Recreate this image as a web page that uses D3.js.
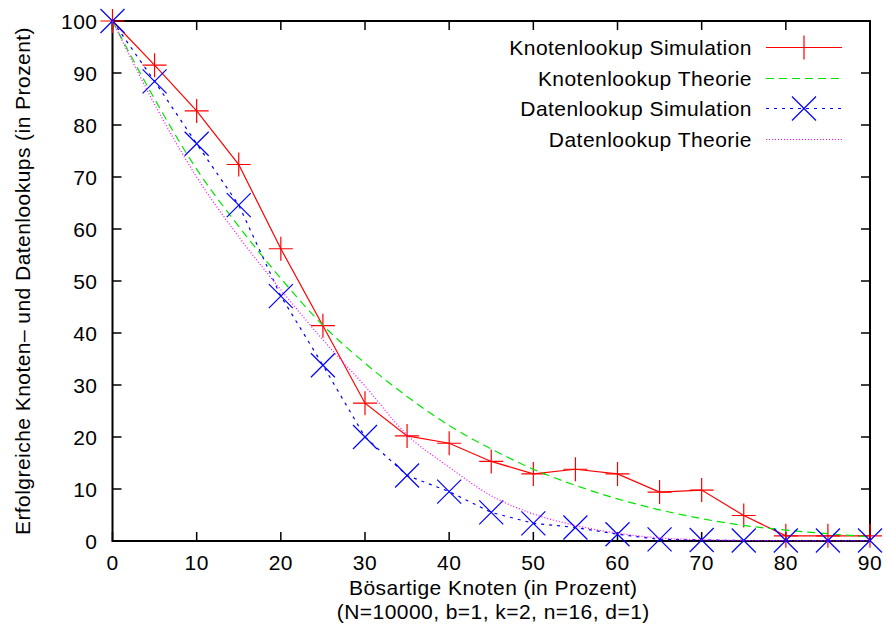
<!DOCTYPE html>
<html>
<head>
<meta charset="utf-8">
<script src="https://cdn.jsdelivr.net/npm/d3@7"></script>
<style>
  body { margin: 0; background: #fff; }
  svg { display: block; font-family: "Liberation Sans", Arial, sans-serif; }
  text { letter-spacing: 0.45px; }
</style>
</head>
<body>
<svg id="chart" width="887" height="633"></svg>
<script>
// malicious node share (x axis, percent)
const xValues = [0, 5, 10, 15, 20, 25, 30, 35, 40, 45, 50, 55, 60, 65, 70, 75, 80, 85, 90];

// success rates (percent)
const knotenSim = [100, 91.5, 82.7, 72.4, 56.2, 41.4, 26.5, 20.2, 18.8, 15.3, 12.9, 13.8, 12.9, 9.4, 9.8, 4.9, 1.0, 1.0, 1.0];
const knotenTheorie = [100, 85, 71.5, 60.5, 50.5, 41.5, 34.2, 27.8, 22.2, 17.7, 13.8, 10.7, 8.1, 6.0, 4.3, 3.0, 2.1, 1.4, 0.8];
const datenSim = [100, 88.4, 76.4, 64.6, 47.1, 33.8, 20.0, 12.6, 9.5, 5.5, 3.4, 2.6, 1.3, 0.3, 0.2, 0.1, 0.1, 0.1, 0.1];
const datenTheorie = [100, 84, 70, 58.5, 48.3, 38.7, 29.8, 20.4, 14.2, 8.7, 5.2, 3.0, 1.5, 0.6, 0.25, 0.1, 0.05, 0.02, 0.01];

const xTicks = [0, 10, 20, 30, 40, 50, 60, 70, 80, 90];
const yTicks = [0, 10, 20, 30, 40, 50, 60, 70, 80, 90, 100];

const series = [
  { name: "Knotenlookup Simulation", values: knotenSim, color: "#ff0000", dash: null, marker: "plus", curve: d3.curveLinear },
  { name: "Knotenlookup Theorie", values: knotenTheorie, color: "#00e600", dash: "8,5", marker: null, curve: d3.curveMonotoneX },
  { name: "Datenlookup Simulation", values: datenSim, color: "#0000ff", dash: "3,5", marker: "cross", curve: d3.curveLinear },
  { name: "Datenlookup Theorie", values: datenTheorie, color: "#ff00ff", dash: "1,2", marker: null, curve: d3.curveMonotoneX },
];

const marginLeft = 112.5;
const marginRight = 17;
const marginTop = 21;
const marginBottom = 92;
const width = 887;
const height = 633;
const fontSize = 21;
const tickLen = 9;
const markerSize = 12;

const x = d3.scaleLinear().domain([0, 90]).range([marginLeft, width - marginRight]);
const y = d3.scaleLinear().domain([0, 100]).range([height - marginBottom, marginTop]);

const svg = d3.select("#chart");

/**
 * Axes (gnuplot style: ticks inward on all four sides)
 */
const axisG = svg.append("g").attr("class", "axes");

axisG
  .selectAll(".xtick")
  .data(xTicks)
  .join("g")
  .attr("class", "xtick")
  .call((g) =>
    g.append("line")
      .attr("x1", (d) => x(d)).attr("x2", (d) => x(d))
      .attr("y1", y(0)).attr("y2", y(0) - tickLen)
  )
  .call((g) =>
    g.append("line")
      .attr("x1", (d) => x(d)).attr("x2", (d) => x(d))
      .attr("y1", y(100)).attr("y2", y(100) + tickLen)
  )
  .call((g) =>
    g.append("text")
      .attr("x", (d) => x(d))
      .attr("y", y(0) + 21)
      .attr("text-anchor", "middle")
      .attr("dominant-baseline", "central")
      .text((d) => d)
  );

axisG
  .selectAll(".ytick")
  .data(yTicks)
  .join("g")
  .attr("class", "ytick")
  .call((g) =>
    g.append("line")
      .attr("x1", x(0)).attr("x2", x(0) + tickLen)
      .attr("y1", (d) => y(d)).attr("y2", (d) => y(d))
  )
  .call((g) =>
    g.append("line")
      .attr("x1", x(90)).attr("x2", x(90) - tickLen)
      .attr("y1", (d) => y(d)).attr("y2", (d) => y(d))
  )
  .call((g) =>
    g.append("text")
      .attr("x", x(0) - 15)
      .attr("y", (d) => y(d))
      .attr("text-anchor", "end")
      .attr("dominant-baseline", "central")
      .text((d) => d)
  );

axisG.selectAll("line").attr("stroke", "#000").attr("stroke-width", 1.5);
axisG.selectAll("text").attr("font-size", fontSize).attr("fill", "#000");

axisG
  .append("rect")
  .attr("x", x(0))
  .attr("y", y(100))
  .attr("width", x(90) - x(0))
  .attr("height", y(0) - y(100))
  .attr("fill", "none")
  .attr("stroke", "#000")
  .attr("stroke-width", 2);

// axis titles
svg.append("text")
  .attr("x", (x(0) + x(90)) / 2 + 2)
  .attr("y", 587)
  .attr("text-anchor", "middle")
  .attr("dominant-baseline", "central")
  .attr("font-size", fontSize)
  .text("Bösartige Knoten (in Prozent)");

svg.append("text")
  .attr("x", (x(0) + x(90)) / 2 + 2)
  .attr("y", 611)
  .attr("text-anchor", "middle")
  .attr("dominant-baseline", "central")
  .attr("font-size", fontSize)
  .text("(N=10000, b=1, k=2, n=16, d=1)");

svg.append("text")
  .attr("transform", `translate(22,${(y(0) + y(100)) / 2}) rotate(-90)`)
  .attr("text-anchor", "middle")
  .attr("dominant-baseline", "central")
  .attr("font-size", fontSize)
  .text("Erfolgreiche Knoten– und Datenlookups (in Prozent)");

/**
 * Series
 */
function drawMarker(g, type, color) {
  const s = markerSize;
  const path = type === "plus"
    ? `M${-s},0H${s}M0,${-s}V${s}`
    : `M${-s},${-s}L${s},${s}M${-s},${s}L${s},${-s}`;
  g.append("path")
    .attr("d", path)
    .attr("fill", "none")
    .attr("stroke", color)
    .attr("stroke-width", 1.2);
}

const plotG = svg.append("g").attr("class", "series");

series.forEach((s) => {
  const pts = xValues.map((v, i) => [v, s.values[i]]);
  const line = d3.line().x((d) => x(d[0])).y((d) => y(d[1])).curve(s.curve);
  plotG.append("path")
    .attr("d", line(pts))
    .attr("fill", "none")
    .attr("stroke", s.color)
    .attr("stroke-width", 1.2)
    .attr("stroke-dasharray", s.dash);
  if (s.marker) {
    plotG.selectAll(null)
      .data(pts)
      .join("g")
      .attr("transform", (d) => `translate(${x(d[0])},${y(d[1])})`)
      .each(function () { drawMarker(d3.select(this), s.marker, s.color); });
  }
});

/**
 * Legend
 */
const legendTextX = 752;
const legendLineX1 = 766;
const legendLineX2 = 842;
const legendRowY = (i) => Math.round(47 + i * 30.5) + 0.5;

const legendItem = svg.append("g")
  .attr("class", "legend")
  .selectAll("g")
  .data(series)
  .join("g")
  .attr("transform", (d, i) => `translate(0,${legendRowY(i)})`);

legendItem.append("text")
  .attr("x", legendTextX)
  .attr("text-anchor", "end")
  .attr("dominant-baseline", "central")
  .attr("font-size", fontSize)
  .text((d) => d.name);

legendItem.append("line")
  .attr("x1", legendLineX1)
  .attr("x2", legendLineX2)
  .attr("stroke", (d) => d.color)
  .attr("stroke-width", 1)
  .attr("stroke-dasharray", (d) => d.dash);

legendItem
  .filter((d) => d.marker)
  .append("g")
  .attr("transform", `translate(${(legendLineX1 + legendLineX2) / 2},0)`)
  .each(function (d) { drawMarker(d3.select(this), d.marker, d.color); });
</script>
</body>
</html>
